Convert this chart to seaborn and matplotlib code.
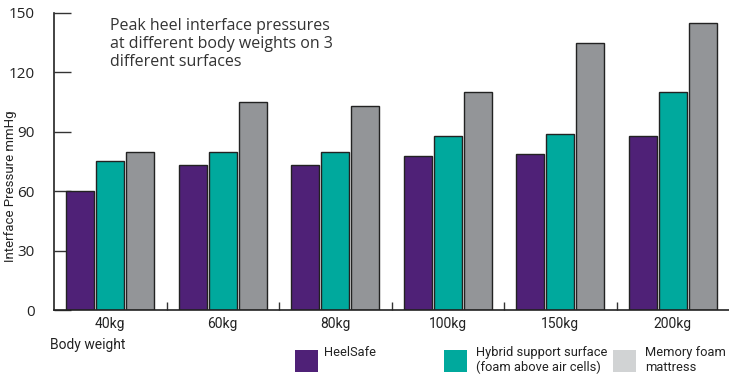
import pandas as pd
import numpy as np
import matplotlib.pyplot as plt
import seaborn as sns
from matplotlib.patches import Rectangle

weights = ["40kg", "60kg", "80kg", "100kg", "150kg", "200kg"]
surfaces = ["HeelSafe", "Hybrid support surface\n(foam above air cells)", "Memory foam\nmattress"]
heelsafe = [60, 73, 73, 78, 79, 88]
hybrid = [75, 80, 80, 88, 89, 110]
memory = [80, 105, 103, 110, 135, 145]
colors = ["#4f2177", "#00a99d", "#939598"]
legend_colors = ["#4f2177", "#00a99d", "#d1d3d4"]

df = pd.DataFrame({
    "weight": weights * 3,
    "surface": [surfaces[0]] * 6 + [surfaces[1]] * 6 + [surfaces[2]] * 6,
    "pressure": heelsafe + hybrid + memory,
})

sns.set_style("ticks")
narrow = ["Roboto", "DejaVu Sans"]
W, H = 729, 382

fig = plt.figure(figsize=(7.29, 3.82), dpi=100)
ax = fig.add_axes([54 / W, 72 / H, 675 / W, 297 / H])

sns.barplot(data=df, x="weight", y="pressure", hue="surface", palette=colors,
            saturation=1, edgecolor="#222222", linewidth=1.0, gap=0.08, width=0.8,
            legend=False, ax=ax)

ax.set_xlim(-0.5, 5.5)
ax.set_ylim(0, 150)
ax.set_yticks([0, 30, 60, 90, 120, 150])
ax.tick_params(axis="y", direction="in", length=12, width=1, color="#333333",
               pad=14, labelsize=11, labelcolor="#222222")
ax.set_yticklabels(["0", "30", "60", "90", "120", "150"], family="Open Sans")
ax.set_xticks(range(6))
ax.set_xticklabels(weights, family=narrow, fontsize=10, color="#222222")
ax.tick_params(axis="x", length=0, pad=5)
ax.set_xticks(np.arange(0.5, 5.5, 1), minor=True)
ax.tick_params(axis="x", which="minor", direction="in", length=6, width=1, color="#333333")
sns.despine(ax=ax)
for s in ["left", "bottom"]:
    ax.spines[s].set_color("#222222")
    ax.spines[s].set_linewidth(1.2)

ax.set_xlabel("")
ax.set_ylabel("")
fig.text(11 / W, 1 - 186 / H, "Interface Pressure mmHg", rotation=90, family=narrow,
         fontsize=9.5, color="#222222", va="center", ha="center")

fig.text(110 / W, 1 - 18 / H,
         "Peak heel interface pressures\nat different body weights on 3\ndifferent surfaces",
         family="Open Sans", fontsize=11.5, color="#333333", va="top", ha="left",
         linespacing=1.15)
fig.text(50 / W, 1 - 345 / H, "Body weight", family=narrow, fontsize=10,
         color="#222222", va="center", ha="left")

# legend placed by hand
patch_x = [295, 444, 613]
text_x = [324, 476, 645]
for px, tx, c, lab in zip(patch_x, text_x, legend_colors, surfaces):
    fig.patches.append(Rectangle((px / W, 1 - 372 / H), 23 / W, 22 / H,
                                 facecolor=c, edgecolor="none",
                                 transform=fig.transFigure, figure=fig))
    fig.text(tx / W, 1 - 346 / H, lab, family=narrow, fontsize=9.3, color="#222222",
             va="top", ha="left", linespacing=1.2)

fig.savefig("out.png", dpi=100)
